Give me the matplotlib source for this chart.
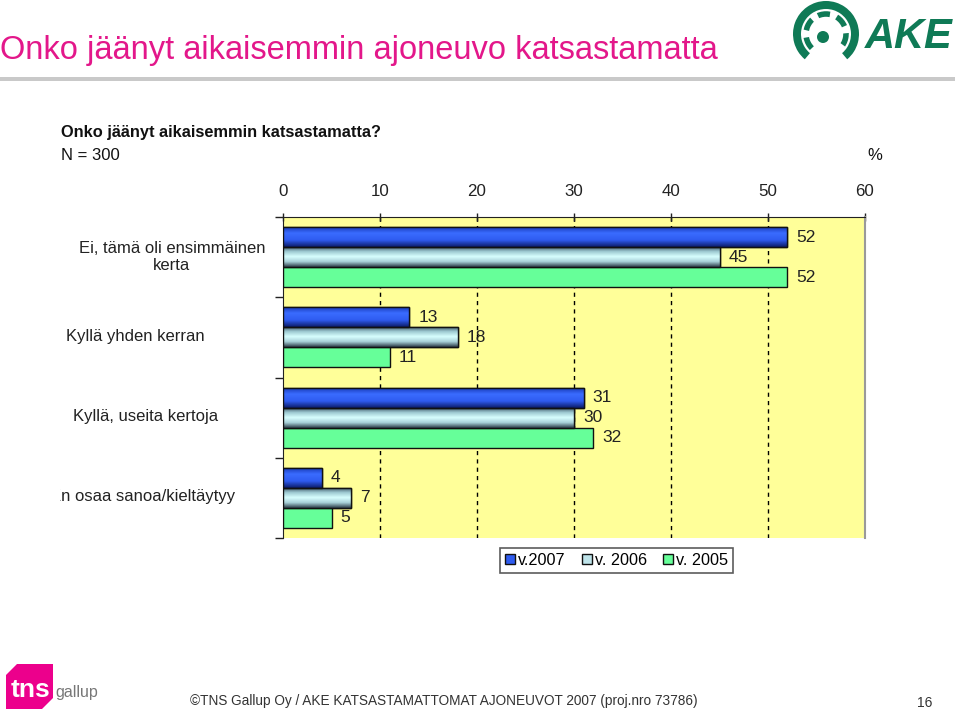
import numpy as np
import matplotlib
matplotlib.use("Agg")
import matplotlib.pyplot as plt
from matplotlib.patches import Patch, Polygon, Wedge, Arc, Circle, Rectangle
from matplotlib.colors import LinearSegmentedColormap
from matplotlib.transforms import Bbox, TransformedBbox

plt.rcParams["font.family"] = ["Liberation Sans", "DejaVu Sans"]

categories = ["Ei, tämä oli ensimmäinen\nkerta", "Kyllä yhden kerran",
              "Kyllä, useita kertoja", "En osaa sanoa/kieltäytyy"]
series_names = ["v.2007", "v. 2006", "v. 2005"]
v2007 = [52, 13, 31, 4]
v2006 = [45, 18, 30, 7]
v2005 = [52, 11, 32, 5]
xticks = [0, 10, 20, 30, 40, 50, 60]

W, H = 960, 715
fig = plt.figure(figsize=(W / 100, H / 100), dpi=100)

# page decorations in pixel coordinates
deco = fig.add_axes([0, 0, 1, 1])
deco.set_xlim(0, W)
deco.set_ylim(H, 0)
deco.axis("off")
deco.text(0, 50, "Onko jäänyt aikaisemmin ajoneuvo katsastamatta", fontsize=23.5,
          color="#e3178a", va="center", ha="left")
deco.add_patch(Rectangle((0, 77), 955, 3.5, color="#c9c9c9", lw=0))

# AKE logo
green = "#0f7a56"
deco.add_patch(Wedge((826, 34), 33, 130, 410, width=8, color=green, lw=0))
deco.add_patch(Arc((826, 34), 40, 40, theta1=135, theta2=405, color=green, lw=4,
                   linestyle=(0, (2.2, 1.3))))
deco.add_patch(Circle((823, 37), 6, color=green, lw=0))
deco.text(865, 37, "AKE", fontsize=30, fontweight="bold", fontstyle="italic",
          color=green, va="center", ha="left")

# tns gallup logo
deco.add_patch(Polygon([(17, 664), (53, 664), (53, 698), (42, 709), (6, 709), (6, 675)],
                       closed=True, color="#ec008c", lw=0))
deco.text(11, 690, "tns", fontsize=19, fontweight="bold", color="white", va="center")
deco.text(55, 692, "gallup", fontsize=11.5, color="#777777", va="center")

deco.text(190, 701, "\u00a9TNS Gallup Oy / AKE KATSASTAMATTOMAT AJONEUVOT 2007 (proj.nro 73786)",
          fontsize=9.8, color="#333333", va="center", ha="left")
deco.text(925, 703, "16", fontsize=10, color="#333333", va="center", ha="center")

# chart titles
deco.text(61, 133, "Onko jäänyt aikaisemmin katsastamatta?", fontsize=11.8,
          fontweight="bold", color="#111111", va="center")
deco.text(61, 155, "N = 300", fontsize=12, color="#111111", va="center")
deco.text(875, 155, "%", fontsize=12, color="#111111", va="center", ha="center")

# main chart
ax = fig.add_axes([283 / W, 1 - 538 / H, (865 - 283) / W, (538 - 217) / H])
ax.set_facecolor("#ffff99")
y = np.arange(len(categories))
h = 0.25

grad_blue = LinearSegmentedColormap.from_list("b", ["#1536b0", "#3a6cff", "#2f5cf0", "#0c1c6a"])
grad_gray = LinearSegmentedColormap.from_list("g", ["#34495a", "#9cc8d0", "#d8ffff", "#a8d0d8", "#2c3c48"])

b07 = ax.barh(y - h, v2007, height=h, color="#2f5cf0", edgecolor="#111111", lw=1, zorder=3)
b06 = ax.barh(y, v2006, height=h, color="#bfeff0", edgecolor="#111111", lw=1, zorder=3)
b05 = ax.barh(y + h, v2005, height=h, color="#66ff99", edgecolor="#111111", lw=1, zorder=3)

ramp = np.linspace(0, 1, 64).reshape(-1, 1)
for bars, cmap in ((b07, grad_blue), (b06, grad_gray)):
    for p in bars:
        x0, y0, w, hh = p.get_x(), p.get_y(), p.get_width(), p.get_height()
        im = ax.imshow(ramp, cmap=cmap, aspect="auto", origin="upper",
                       extent=(x0, x0 + w, y0 + hh, y0), zorder=3.5, interpolation="bilinear")
        im.set_clip_path(p)
        edge = Rectangle((x0, y0), w, hh, fill=False, edgecolor="#111111", lw=1, zorder=4)
        ax.add_patch(edge)

for bars in (b07, b06, b05):
    for p in bars:
        ax.annotate(f"{p.get_width():g}", (p.get_width(), p.get_y() + p.get_height() / 2),
                    xytext=(6.5, 0), textcoords="offset points", va="center", ha="left",
                    fontsize=12.5, color="#222222", zorder=5)

ax.set_xlim(0, 60)
ax.set_ylim(len(categories) - 0.5, -0.5)
ax.set_xticks(xticks)
ax.xaxis.tick_top()
ax.tick_params(axis="x", direction="inout", length=6, pad=10, labelsize=12.2,
               colors="#222222", width=1)
ax.set_yticks([])
ax.set_yticks(np.arange(-0.5, len(categories)), minor=True)
ax.tick_params(axis="y", which="minor", direction="out", length=6, width=1, color="#222222")
for xv in xticks[1:-1]:
    ax.axvline(xv, color="black", lw=1, ls=(0, (3, 3)), zorder=1)
ax.spines["top"].set_color("#222222")
ax.spines["left"].set_color("#222222")
ax.spines["right"].set_color("#9a9a9a")
ax.spines["right"].set_linewidth(1.5)
ax.spines["bottom"].set_visible(False)

# category labels (clipped at the left edge of the pasted chart image)
label_x = [172, 135, 146, 143]
clip = TransformedBbox(Bbox([[60 / W, 0], [1, 1]]), fig.transFigure)
for i, lab in enumerate(categories):
    yc = 1 - (217 + 80 * i + 40) / H
    t = fig.text(label_x[i] / W, yc, lab, fontsize=12.0, color="#222222",
                 ha="center", va="center", linespacing=1.15)
    t.set_clip_on(True)
    t.set_clip_box(clip)

# legend
handles = [Patch(facecolor=c, edgecolor="#111111", lw=1)
           for c in ("#2f5cf0", "#bfe4ea", "#66ff99")]
leg = fig.legend(handles, series_names, loc="center", ncol=3,
                 bbox_to_anchor=(616.5 / W, 1 - 560.5 / H), fontsize=11.7,
                 frameon=True, fancybox=False, edgecolor="#333333",
                 handlelength=0.6, handleheight=0.6, handletextpad=0.2,
                 columnspacing=1.0, borderpad=0.3)
leg.get_frame().set_linewidth(1.2)

fig.savefig("out.png", dpi=100)
